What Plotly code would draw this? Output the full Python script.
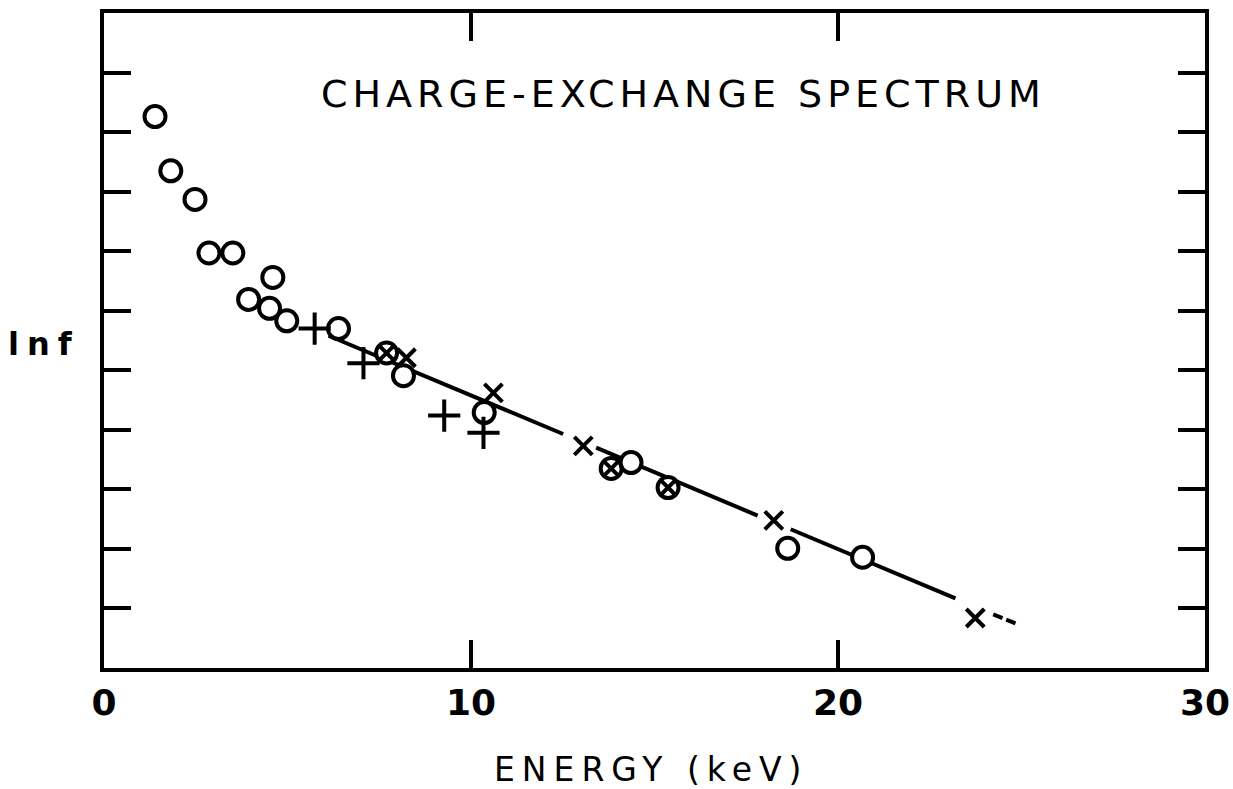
import plotly.graph_objects as go

# Charge-exchange spectrum: ln f versus particle energy (keV)
circle_energy = [1.39, 1.82, 2.48, 2.86, 3.51, 4.60, 3.94, 4.51, 4.98, 6.39, 8.16, 10.36, 14.36, 18.63, 20.67]
circle_lnf = [9.26, 8.35, 7.87, 6.97, 6.97, 6.56, 6.19, 6.04, 5.83, 5.70, 4.91, 4.29, 3.45, 2.01, 1.86]

circx_energy = [7.70, 13.82, 15.37]
circx_lnf = [5.29, 3.35, 3.03]

plus_energy = [5.74, 7.07, 9.27, 10.34]
plus_lnf = [5.70, 5.12, 4.24, 3.95]

cross_energy = [8.24, 10.61, 13.06, 18.25, 23.74]
cross_lnf = [5.21, 4.62, 3.73, 2.48, 0.84]

# Hand-drawn straight-line fit (broken where it meets x marks) and its dashed tail
fit_energy = [6.12, 12.51, None, 13.41, 17.81, None, 18.71, 23.20]
fit_lnf = [5.58, 3.93, None, 3.70, 2.56, None, 2.33, 1.17]
tail_energy = [24.23, 24.91]
tail_lnf = [0.90, 0.73]

x_ticks = [0, 10, 20, 30]
x_tick_text = ["0", "10", "20", "30"]
y_ticks = [1, 2, 3, 4, 5, 6, 7, 8, 9, 10]

INK = "#000000"
FONT = "DejaVu Sans"

fig = go.Figure()

fig.add_trace(go.Scatter(x=fit_energy, y=fit_lnf, mode="lines",
                         line=dict(color=INK, width=4), connectgaps=False,
                         hoverinfo="skip"))
fig.add_trace(go.Scatter(x=tail_energy, y=tail_lnf, mode="lines",
                         line=dict(color=INK, width=4, dash="10px,4px"),
                         hoverinfo="skip"))

# white discs so the fit line does not show through the circles
fig.add_trace(go.Scatter(x=circle_energy + circx_energy, y=circle_lnf + circx_lnf,
                         mode="markers",
                         marker=dict(symbol="circle", size=22, color="white",
                                     line=dict(width=0)),
                         hoverinfo="skip"))
fig.add_trace(go.Scatter(x=circle_energy, y=circle_lnf, mode="markers",
                         marker=dict(symbol="circle-open", size=21, color=INK,
                                     line=dict(color=INK, width=4))))
fig.add_trace(go.Scatter(x=circx_energy, y=circx_lnf, mode="markers",
                         marker=dict(symbol="circle-x-open", size=21, color=INK,
                                     line=dict(color=INK, width=4))))
fig.add_trace(go.Scatter(x=plus_energy, y=plus_lnf, mode="markers",
                         marker=dict(symbol="cross-thin-open", size=23, color=INK,
                                     line=dict(color=INK, width=4))))
fig.add_trace(go.Scatter(x=cross_energy, y=cross_lnf, mode="markers",
                         marker=dict(symbol="x-thin-open", size=18, color=INK,
                                     line=dict(color=INK, width=4))))

fig.update_xaxes(range=[0, 30], tickvals=x_ticks, ticktext=x_tick_text,
                 ticks="inside", ticklen=28, tickwidth=4, tickcolor=INK,
                 showline=True, linewidth=4, linecolor=INK, mirror="ticks",
                 showgrid=False, zeroline=False, automargin=False,
                 tickfont=dict(family=FONT, size=36, color=INK, weight="bold"))
fig.update_yaxes(range=[0, 11], tickvals=y_ticks, showticklabels=False,
                 ticks="inside", ticklen=27, tickwidth=4, tickcolor=INK,
                 showline=True, linewidth=4, linecolor=INK, mirror="ticks",
                 showgrid=False, zeroline=False, automargin=False)

fig.add_annotation(text="CHARGE-EXCHANGE SPECTRUM", xref="paper", yref="y",
                   x=0.526, y=9.64, xanchor="center", yanchor="middle",
                   showarrow=False, font=dict(family=FONT, size=38, color=INK))
fig.add_annotation(text="ENERGY (keV)", xref="paper", yref="paper",
                   x=0.497, y=-0.155, xanchor="center", yanchor="middle",
                   showarrow=False, font=dict(family=FONT, size=33, color=INK))
fig.add_annotation(text="lnf", xref="paper", yref="y",
                   x=-0.054, y=5.44, xanchor="center", yanchor="middle",
                   showarrow=False, font=dict(family=FONT, size=32, color=INK,
                                              weight="bold"))

fig.update_layout(width=1233, height=789,
                  margin=dict(l=104, r=28, t=13, b=121, autoexpand=False),
                  paper_bgcolor="white", plot_bgcolor="white",
                  showlegend=False)

# wide lettering spacing for the stencilled labels
spacing_js = """
var gd = document.getElementById('{plot_id}');
function spaceLetters() {
  gd.querySelectorAll('.annotation-text').forEach(function (t) {
    var s = t.textContent;
    if (s.indexOf('CHARGE') === 0) { t.style.letterSpacing = '5px'; }
    else if (s.indexOf('ENERGY') === 0) { t.style.letterSpacing = '7px'; }
    else if (s === 'lnf') { t.style.letterSpacing = '8px'; }
  });
}
spaceLetters();
gd.on('plotly_afterplot', spaceLetters);
"""

fig.write_html("out.html", post_script=spacing_js)
